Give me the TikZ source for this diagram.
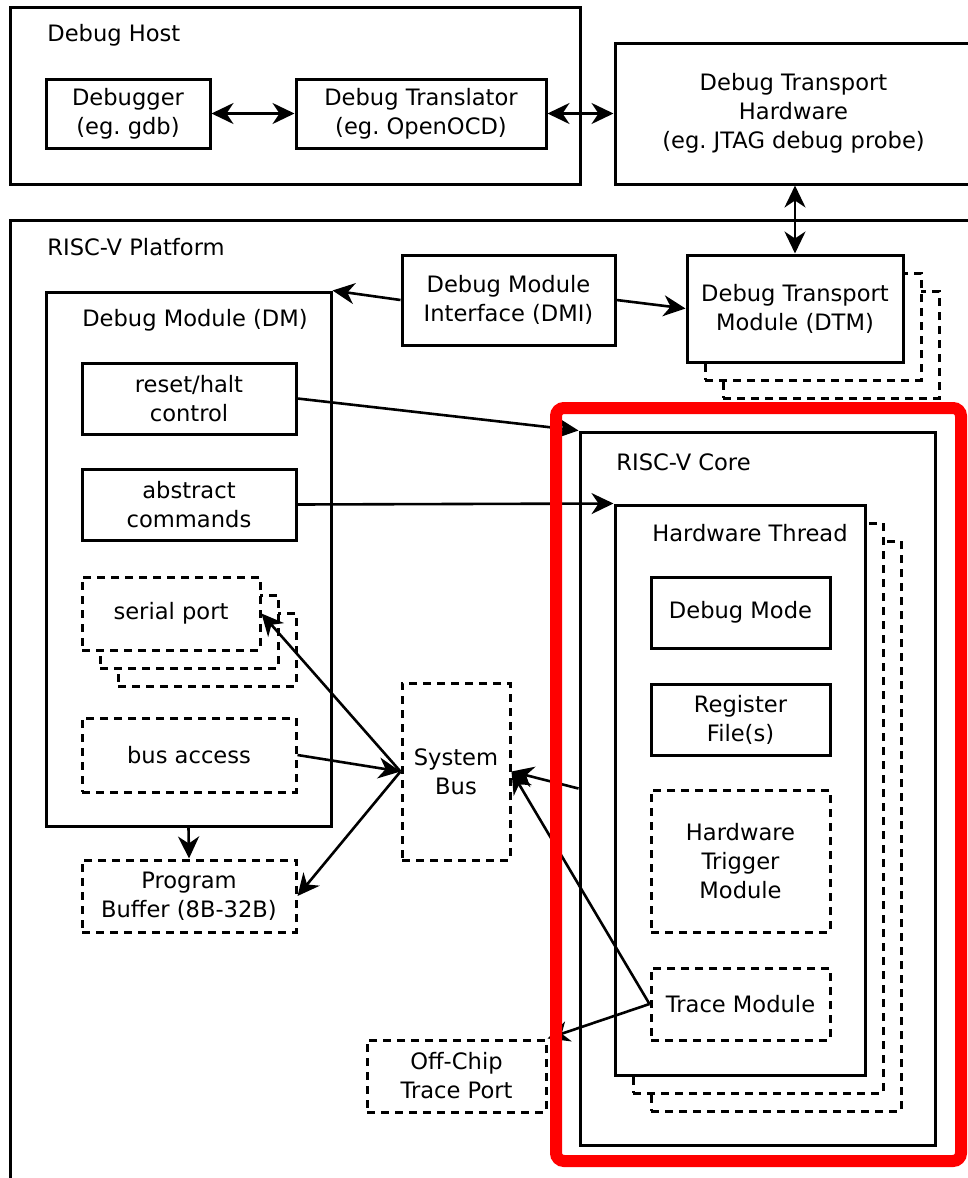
\documentclass[tikz,border=0pt]{standalone}
\usepackage{fontspec}
\setmainfont{DejaVu Sans}
\usetikzlibrary{arrows.meta}
\frenchspacing

\begin{document}
\begin{tikzpicture}[
    x=0.5pt, y=-0.5pt,
    every node/.style={font=\fontsize{11.3}{14.5}\selectfont},
    box/.style={rectangle, draw=black, line width=1.5pt, fill=white, align=center, inner sep=0pt},
    optbox/.style={box, dash pattern=on 4pt off 3pt},
    title/.style={inner sep=0pt, anchor=west},
    arrow/.style={-{Stealth[length=11pt, width=10.5pt, inset=3.5pt]}, line width=1.3pt},
    dblarrow/.style={{Stealth[length=11pt, width=10.5pt, inset=3.5pt]}-{Stealth[length=11pt, width=10.5pt, inset=3.5pt]}, line width=1.3pt},
    highlight/.style={rectangle, draw=red, line width=6pt, rounded corners=4pt, minimum width=202.5pt, minimum height=376.5pt}
  ]
    \useasboundingbox (0,0) rectangle (968,1178);
    \clip (0,0) rectangle (968,1178);
    \fill[white] (0,0) rectangle (968,1178);

    \node[box, minimum width=285pt, minimum height=88.5pt] (host) at (295,95.5) {};
    \node[title] (hosttitle) at (47,35) {Debug Host};
    \node[box, minimum width=82pt, minimum height=34.5pt] (debugger) at (128,113.5) {Debugger\\(eg. gdb)};
    \node[box, minimum width=125pt, minimum height=34.5pt] (translator) at (421,113.5) {Debug Translator\\(eg. OpenOCD)};
    \node[box, minimum width=178.5pt, minimum height=70.5pt] (dth) at (793.5,113.5) {Debug Transport\\Hardware\\(eg. JTAG debug probe)};

    \node[box, minimum width=485pt, minimum height=485pt] (platform) at (495,705) {};
    \node[title] (platformtitle) at (47,247) {RISC-V Platform};
    \foreach \d in {36,18}
      \node[optbox, minimum width=108pt, minimum height=53.5pt] (dtm\d) at (795+\d,308.5+\d) {};
    \node[box, minimum width=108pt, minimum height=53.5pt] (dtm) at (795,308.5) {Debug Transport\\Module (DTM)};
    \node[box, minimum width=106.5pt, minimum height=45pt] (dmi) at (508.5,300) {Debug Module\\Interface (DMI)};

    \node[box, minimum width=142.5pt, minimum height=267pt] (dm) at (188.5,559) {};
    \node (dmtitle) at (195,320) {Debug Module (DM)};
    \node[box, minimum width=107pt, minimum height=35.5pt] (reset) at (189,398.5) {reset/halt\\control};
    \node[box, minimum width=107pt, minimum height=35.5pt] (abstract) at (189,504.5) {abstract\\commands};
    \foreach \d in {36,18}
      \node[optbox, minimum width=89pt, minimum height=36.5pt] (serial\d) at (171+\d,613.5+\d) {};
    \node[optbox, minimum width=89pt, minimum height=36.5pt] (serial) at (171,613.5) {serial port};
    \node[optbox, minimum width=107pt, minimum height=37pt] (busaccess) at (189,755) {bus access};
    \node[optbox, minimum width=107pt, minimum height=36pt] (progbuf) at (189,896) {Program\\Buffer (8B-32B)};
    \node[optbox, minimum width=54pt, minimum height=88.5pt] (sysbus) at (456,771.5) {System\\Bus};
    \node[optbox, minimum width=89.5pt, minimum height=36pt] (offchip) at (456.5,1076) {Off-Chip\\Trace Port};

    \node[box, minimum width=177.5pt, minimum height=356.5pt] (core) at (757.5,788.5) {};
    \node[title] (coretitle) at (616,462) {RISC-V Core};
    \foreach \d in {36,18}
      \node[optbox, minimum width=125pt, minimum height=285pt] (thread\d) at (740+\d,790+\d) {};
    \node[box, minimum width=125pt, minimum height=285pt] (thread) at (740,790) {};
    \node (threadtitle) at (750,533) {Hardware Thread};
    \node[box, minimum width=89.5pt, minimum height=35.5pt] (debugmode) at (740.5,612.5) {Debug Mode};
    \node[box, minimum width=89.5pt, minimum height=35.5pt] (regfile) at (740.5,719.5) {Register\\File(s)};
    \node[optbox, minimum width=89.5pt, minimum height=71pt] (trigger) at (740.5,861) {Hardware\\Trigger\\Module};
    \node[optbox, minimum width=89.5pt, minimum height=36pt] (trace) at (740.5,1004) {Trace Module};

    \draw[dblarrow] (debugger) -- (translator);
    \draw[dblarrow] (translator) -- (dth);
    \draw[dblarrow] (dtm.north |- dth.south) -- (dtm.north);
    \draw[arrow] (dmi.west) -- (dm.north east);
    \draw[arrow] (dmi.east) -- (dtm.west);
    \draw[arrow] (reset.east) -- (core.north west);
    \draw[arrow] (abstract.east) -- (thread.north west);
    \draw[arrow] (sysbus.west) -- (serial.east);
    \draw[arrow] (busaccess.east) -- (sysbus.west);
    \draw[arrow] (sysbus.west) -- (progbuf.east);
    \draw[arrow] (dm.south) -- (progbuf.north);
    \draw[arrow] (core.west) -- (sysbus.east);
    \draw[arrow] (trace.west) -- (sysbus.east);
    \draw[arrow] (trace.west) -- (offchip.north east);

    \node[highlight] (focus) at (758.5,784.5) {};
  \end{tikzpicture}
\end{document}
